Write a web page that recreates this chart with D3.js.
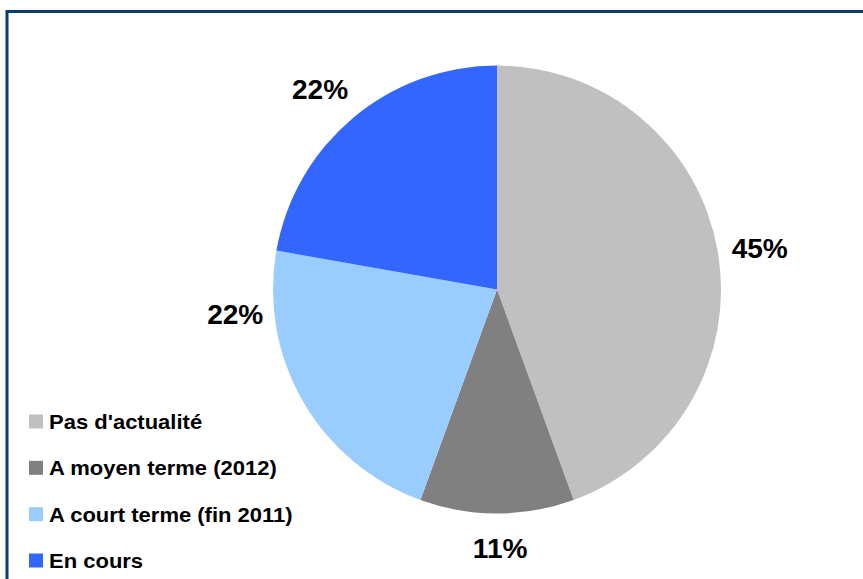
<!DOCTYPE html>
<html><head><meta charset="utf-8">
<script src="https://cdn.jsdelivr.net/npm/d3@7/dist/d3.min.js"></script>
<style>html,body{margin:0;padding:0;background:#fff;}svg{display:block;}</style>
</head><body>
<script>
const categories = ["Pas d'actualité", "A moyen terme (2012)", "A court terme (fin 2011)", "En cours"];
const values = [44.4, 11.1, 22.2, 22.2];
const labels = ["45%", "11%", "22%", "22%"];
const colors = ["#C0C0C0", "#808080", "#99CCFF", "#3366FF"];
// label placement adjustments (degrees), layout only
const labelAngleShift = [1, -0.7, 24.5, -1.5];
const labelRadius = [266, 258.5, 263, 267];

const W = 863, H = 579;
const svg = d3.select("body").append("svg").attr("width", W).attr("height", H);

// frame (only top and left edges visible)
svg.append("rect").attr("x", 7).attr("y", 11.5).attr("width", 900).attr("height", 700)
  .attr("fill", "none").attr("stroke", "#0B3C6F").attr("stroke-width", 3);

const cx = 497, cy = 289.5, r = 224;
const g = svg.append("g").attr("transform", `translate(${cx},${cy})`);
const pie = d3.pie().sort(null).value(d => d)(values);
const arc = d3.arc().innerRadius(0).outerRadius(r);
g.selectAll("path.slice").data(pie).join("path").attr("class", "slice")
  .attr("d", arc).attr("fill", (d, i) => colors[i]);

g.selectAll("text.lbl").data(pie).join("text").attr("class", "lbl")
  .attr("transform", (d, i) => {
    const a = (d.startAngle + d.endAngle) / 2 + labelAngleShift[i] * Math.PI / 180;
    const rr = labelRadius[i];
    return `translate(${rr * Math.sin(a)},${-rr * Math.cos(a)}) scale(1.04,1)`;
  })
  .attr("text-anchor", "middle").attr("dy", "0.36em")
  .attr("font-family", "Liberation Sans, Arial, sans-serif").attr("font-weight", "bold")
  .attr("font-size", 27).attr("fill", "#000").text((d, i) => labels[i]);

// legend
const leg = svg.append("g");
const ly = d3.scalePoint().domain(categories).range([421.5, 560.5]);
categories.forEach((c, i) => {
  leg.append("rect").attr("x", 29).attr("y", ly(c) - 7).attr("width", 14).attr("height", 14).attr("fill", colors[i]);
  leg.append("text").attr("transform", `translate(49,${ly(c) + 7.5}) scale(1.1,1)`)
    .attr("font-family", "Liberation Sans, Arial, sans-serif").attr("font-weight", "bold")
    .attr("font-size", 20).attr("fill", "#000").text(c);
});
</script>
</body></html>
